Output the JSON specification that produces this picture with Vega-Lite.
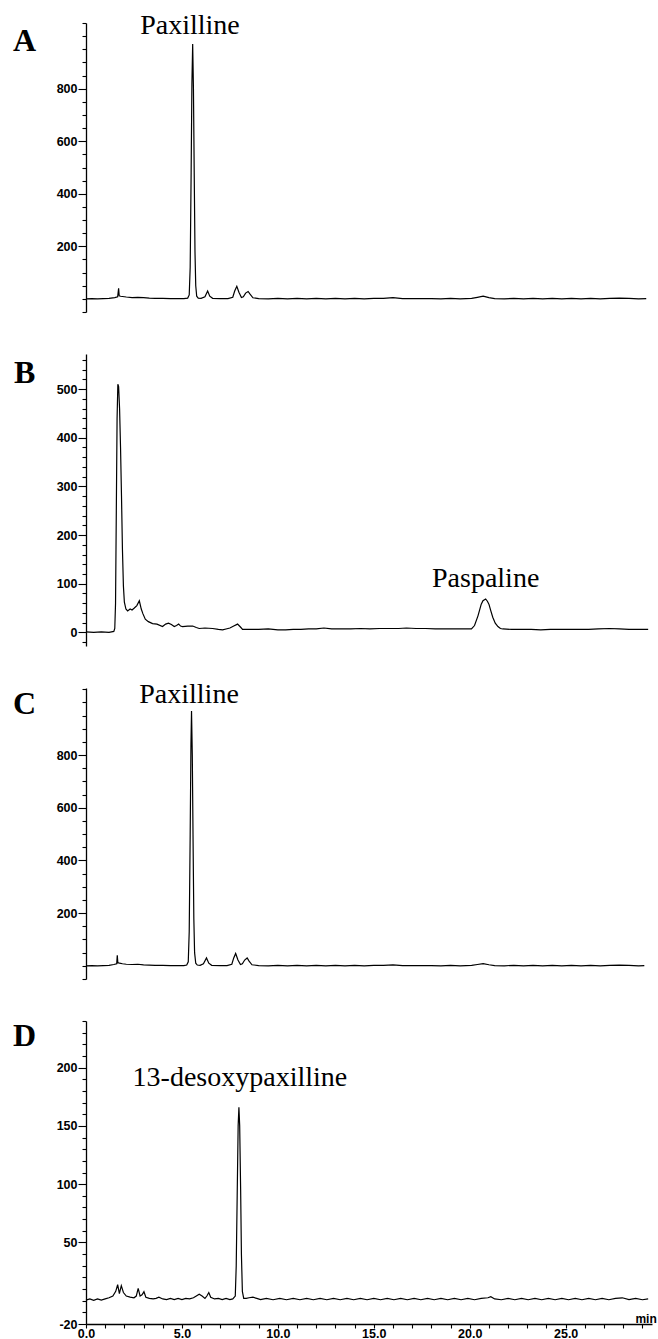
{
  "$schema": "https://vega.github.io/schema/vega-lite/v6.json",
  "background": "white",
  "padding": {"left": 13, "top": 11, "right": 0, "bottom": 0},
  "spacing": 42,
  "bounds": "flush",
  "config": {
    "view": {"stroke": null},
    "axis": {"grid": false, "domainColor": "#000", "tickColor": "#000", "labelColor": "#000", "labelFont": "Liberation Sans", "labelFontWeight": "bold", "labelFontSize": 12.5, "labelOverlap": false, "labelFlush": false, "domainWidth": 1.3, "tickWidth": 1.1}
  },
  "datasets": {
    "A": [
      {"t":0.0,"v":0},{"t":0.3,"v":1},{"t":0.6,"v":0},{"t":0.9,"v":1},{"t":1.2,"v":2},{"t":1.5,"v":5},{"t":1.65,"v":8},{"t":1.70,"v":40},{"t":1.73,"v":12},{"t":1.8,"v":10},{"t":1.9,"v":9},{"t":2.1,"v":7},{"t":2.4,"v":5},{"t":2.7,"v":6},{"t":3.0,"v":5},{"t":3.3,"v":3},{"t":3.6,"v":2},{"t":4.0,"v":2},{"t":4.4,"v":1},{"t":4.8,"v":1},{"t":5.1,"v":1},{"t":5.3,"v":3},{"t":5.38,"v":15},{"t":5.43,"v":120},{"t":5.48,"v":480},{"t":5.52,"v":820},{"t":5.56,"v":970},{"t":5.60,"v":800},{"t":5.64,"v":480},{"t":5.68,"v":180},{"t":5.72,"v":50},{"t":5.77,"v":10},{"t":5.85,"v":3},{"t":6.0,"v":2},{"t":6.2,"v":8},{"t":6.34,"v":30},{"t":6.45,"v":10},{"t":6.6,"v":2},{"t":7.0,"v":1},{"t":7.4,"v":1},{"t":7.65,"v":6},{"t":7.75,"v":30},{"t":7.86,"v":48},{"t":7.97,"v":25},{"t":8.1,"v":5},{"t":8.2,"v":8},{"t":8.32,"v":22},{"t":8.45,"v":28},{"t":8.55,"v":18},{"t":8.7,"v":4},{"t":9.0,"v":1},
      {"t":9.5,"v":0},{"t":10.0,"v":2},{"t":10.5,"v":0},{"t":11.0,"v":2},{"t":11.5,"v":0},{"t":12.0,"v":2},{"t":12.5,"v":0},{"t":13.0,"v":2},{"t":13.5,"v":0},{"t":14.0,"v":2},{"t":14.5,"v":0},{"t":15.0,"v":2},{"t":15.5,"v":2},{"t":16.0,"v":5},{"t":16.5,"v":1},{"t":17.0,"v":1},{"t":17.5,"v":1},{"t":18.0,"v":1},{"t":18.5,"v":0},{"t":19.0,"v":2},{"t":19.5,"v":0},{"t":20.1,"v":2},{"t":20.4,"v":6},{"t":20.7,"v":10},{"t":21.0,"v":5},{"t":21.3,"v":1},{"t":21.8,"v":0},{"t":22.3,"v":2},{"t":22.8,"v":0},{"t":23.3,"v":2},{"t":23.8,"v":0},{"t":24.3,"v":2},{"t":24.8,"v":0},{"t":25.3,"v":2},{"t":25.8,"v":0},{"t":26.3,"v":2},{"t":26.8,"v":0},{"t":27.3,"v":2},{"t":27.8,"v":3},{"t":28.3,"v":2},{"t":28.8,"v":0},{"t":29.2,"v":1}
    ],
    "B": [
      {"t":0.0,"v":1},{"t":0.4,"v":0},{"t":0.8,"v":1},{"t":1.2,"v":0},{"t":1.45,"v":2},{"t":1.50,"v":8},{"t":1.54,"v":60},{"t":1.58,"v":250},{"t":1.62,"v":440},{"t":1.66,"v":510},{"t":1.70,"v":505},{"t":1.75,"v":460},{"t":1.80,"v":380},{"t":1.85,"v":280},{"t":1.90,"v":170},{"t":1.95,"v":95},{"t":2.00,"v":62},{"t":2.08,"v":48},{"t":2.17,"v":44},{"t":2.3,"v":48},{"t":2.4,"v":46},{"t":2.52,"v":50},{"t":2.65,"v":55},{"t":2.78,"v":65},{"t":2.88,"v":48},{"t":2.97,"v":38},{"t":3.09,"v":27},{"t":3.25,"v":22},{"t":3.47,"v":18},{"t":3.7,"v":17},{"t":3.99,"v":12},{"t":4.15,"v":17},{"t":4.3,"v":19},{"t":4.45,"v":16},{"t":4.6,"v":12},{"t":4.72,"v":14},{"t":4.83,"v":17},{"t":4.93,"v":13},{"t":5.03,"v":12},{"t":5.3,"v":13},{"t":5.56,"v":13},{"t":5.75,"v":10},{"t":5.9,"v":8},{"t":6.2,"v":9},{"t":6.6,"v":8},{"t":6.9,"v":6},{"t":7.12,"v":5},{"t":7.3,"v":7},{"t":7.5,"v":9},{"t":7.7,"v":13},{"t":7.9,"v":17},{"t":8.05,"v":11},{"t":8.16,"v":6},{"t":8.6,"v":6},{"t":9.0,"v":6},{"t":9.5,"v":7},{"t":10.0,"v":5},{"t":10.4,"v":5},{"t":10.8,"v":6},{"t":11.2,"v":6},{"t":11.6,"v":7},{"t":12.0,"v":7},{"t":12.4,"v":9},{"t":12.8,"v":7},{"t":13.3,"v":7},{"t":13.8,"v":7},{"t":14.3,"v":8},{"t":14.8,"v":7},{"t":15.3,"v":8},{"t":15.8,"v":8},{"t":16.3,"v":8},{"t":16.7,"v":9},{"t":17.2,"v":8},{"t":17.7,"v":8},{"t":18.2,"v":7},{"t":18.7,"v":7},{"t":19.2,"v":7},{"t":19.7,"v":7},{"t":20.09,"v":7},{"t":20.25,"v":14},{"t":20.43,"v":34},{"t":20.6,"v":58},{"t":20.69,"v":65},{"t":20.83,"v":68.6},{"t":20.92,"v":64},{"t":21.0,"v":58},{"t":21.1,"v":44},{"t":21.2,"v":31},{"t":21.33,"v":19},{"t":21.47,"v":12},{"t":21.6,"v":8},{"t":21.73,"v":7},{"t":22.2,"v":6},{"t":22.7,"v":6},{"t":23.2,"v":6},{"t":23.7,"v":5},{"t":24.2,"v":6},{"t":24.7,"v":6},{"t":25.2,"v":6},{"t":25.7,"v":6},{"t":26.2,"v":6},{"t":26.7,"v":7},{"t":27.3,"v":8},{"t":27.8,"v":7},{"t":28.3,"v":6},{"t":28.8,"v":6},{"t":29.3,"v":6}
    ],
    "C": [
      {"t":0.0,"v":0},{"t":0.3,"v":1},{"t":0.6,"v":0},{"t":0.9,"v":1},{"t":1.2,"v":2},{"t":1.45,"v":5},{"t":1.6,"v":8},{"t":1.63,"v":40},{"t":1.66,"v":12},{"t":1.75,"v":10},{"t":1.9,"v":8},{"t":2.1,"v":6},{"t":2.4,"v":5},{"t":2.7,"v":6},{"t":3.0,"v":4},{"t":3.3,"v":3},{"t":3.6,"v":2},{"t":4.0,"v":2},{"t":4.4,"v":1},{"t":4.8,"v":1},{"t":5.1,"v":1},{"t":5.25,"v":3},{"t":5.33,"v":15},{"t":5.38,"v":130},{"t":5.43,"v":500},{"t":5.47,"v":840},{"t":5.50,"v":968},{"t":5.54,"v":800},{"t":5.58,"v":480},{"t":5.62,"v":180},{"t":5.66,"v":50},{"t":5.72,"v":10},{"t":5.8,"v":3},{"t":5.95,"v":2},{"t":6.12,"v":8},{"t":6.28,"v":30},{"t":6.4,"v":10},{"t":6.55,"v":2},{"t":7.0,"v":1},{"t":7.35,"v":1},{"t":7.6,"v":6},{"t":7.7,"v":30},{"t":7.8,"v":47},{"t":7.92,"v":22},{"t":8.05,"v":5},{"t":8.15,"v":8},{"t":8.27,"v":22},{"t":8.4,"v":30},{"t":8.5,"v":18},{"t":8.65,"v":4},{"t":9.0,"v":1},
      {"t":9.5,"v":0},{"t":10.0,"v":2},{"t":10.5,"v":0},{"t":11.0,"v":2},{"t":11.5,"v":0},{"t":12.0,"v":2},{"t":12.5,"v":0},{"t":13.0,"v":2},{"t":13.5,"v":0},{"t":14.0,"v":2},{"t":14.5,"v":0},{"t":15.0,"v":2},{"t":15.5,"v":2},{"t":16.0,"v":4},{"t":16.5,"v":1},{"t":17.0,"v":1},{"t":17.5,"v":1},{"t":18.0,"v":1},{"t":18.5,"v":0},{"t":19.0,"v":2},{"t":19.5,"v":0},{"t":20.1,"v":2},{"t":20.4,"v":5},{"t":20.7,"v":8},{"t":21.0,"v":4},{"t":21.3,"v":1},{"t":21.8,"v":0},{"t":22.3,"v":2},{"t":22.8,"v":0},{"t":23.3,"v":2},{"t":23.8,"v":0},{"t":24.3,"v":2},{"t":24.8,"v":0},{"t":25.3,"v":2},{"t":25.8,"v":0},{"t":26.3,"v":2},{"t":26.8,"v":0},{"t":27.3,"v":2},{"t":27.8,"v":3},{"t":28.3,"v":2},{"t":28.8,"v":0},{"t":29.1,"v":1}
    ],
    "D": [
      {"t":0.0,"v":0.5},{"t":0.2,"v":1.5},{"t":0.4,"v":0.3},{"t":0.6,"v":1.6},{"t":0.8,"v":0.5},{"t":1.0,"v":1.5},{"t":1.2,"v":2.5},{"t":1.4,"v":4},{"t":1.55,"v":8},{"t":1.65,"v":13.7},{"t":1.74,"v":6},{"t":1.84,"v":12.9},{"t":1.95,"v":7},{"t":2.1,"v":4},{"t":2.3,"v":3},{"t":2.5,"v":2.5},{"t":2.62,"v":4},{"t":2.72,"v":10.5},{"t":2.82,"v":4},{"t":2.92,"v":5},{"t":3.02,"v":7.7},{"t":3.12,"v":3},{"t":3.3,"v":2},{"t":3.5,"v":1.5},{"t":3.65,"v":2},{"t":3.8,"v":3},{"t":4.0,"v":1.5},{"t":4.2,"v":1},{"t":4.4,"v":2},{"t":4.6,"v":1},{"t":4.8,"v":2},{"t":5.0,"v":1},{"t":5.2,"v":2},{"t":5.4,"v":1.5},{"t":5.6,"v":2.5},{"t":5.75,"v":4},{"t":5.9,"v":5.5},{"t":6.05,"v":4},{"t":6.2,"v":2},{"t":6.3,"v":4},{"t":6.4,"v":7},{"t":6.5,"v":3},{"t":6.7,"v":1.5},{"t":6.9,"v":2},{"t":7.1,"v":1},{"t":7.3,"v":2},{"t":7.5,"v":1},{"t":7.65,"v":1.5},{"t":7.78,"v":4},{"t":7.83,"v":30},{"t":7.88,"v":90},{"t":7.93,"v":150},{"t":7.97,"v":166},{"t":8.01,"v":150},{"t":8.06,"v":95},{"t":8.10,"v":40},{"t":8.15,"v":8},{"t":8.22,"v":2},{"t":8.35,"v":2},{"t":8.5,"v":2.5},{"t":8.7,"v":3},{"t":8.9,"v":2},{"t":9.1,"v":1},
      {"t":9.4,"v":2},{"t":9.75,"v":0.8},{"t":10.1,"v":2},{"t":10.45,"v":0.8},{"t":10.8,"v":2},{"t":11.15,"v":0.8},{"t":11.5,"v":2},{"t":11.85,"v":0.8},{"t":12.2,"v":2},{"t":12.55,"v":0.8},{"t":12.9,"v":2},{"t":13.25,"v":0.8},{"t":13.6,"v":2},{"t":13.95,"v":0.8},{"t":14.3,"v":2},{"t":14.65,"v":0.8},{"t":15.0,"v":2},{"t":15.35,"v":0.8},{"t":15.7,"v":2},{"t":16.05,"v":0.8},{"t":16.4,"v":2},{"t":16.75,"v":0.8},{"t":17.1,"v":2},{"t":17.45,"v":0.8},{"t":17.8,"v":2},{"t":18.15,"v":0.8},{"t":18.5,"v":2},{"t":18.85,"v":0.8},{"t":19.2,"v":2},{"t":19.55,"v":0.8},{"t":19.9,"v":2},{"t":20.25,"v":0.8},{"t":20.6,"v":2},{"t":20.95,"v":2.5},{"t":21.1,"v":3.5},{"t":21.3,"v":1.5},{"t":21.65,"v":0.8},{"t":22.0,"v":2},{"t":22.35,"v":0.8},{"t":22.7,"v":2},{"t":23.05,"v":0.8},{"t":23.4,"v":2},{"t":23.75,"v":0.8},{"t":24.1,"v":2},{"t":24.45,"v":0.8},{"t":24.8,"v":2},{"t":25.15,"v":0.8},{"t":25.5,"v":2},{"t":25.85,"v":0.8},{"t":26.2,"v":2},{"t":26.55,"v":0.8},{"t":26.9,"v":2},{"t":27.25,"v":0.8},{"t":27.6,"v":2},{"t":27.95,"v":2.5},{"t":28.3,"v":1},{"t":28.65,"v":2},{"t":29.0,"v":0.8},{"t":29.3,"v":1.5}
    ]
  },
  "vconcat": [
    {
      "width": 566, "height": 289,
      "encoding": {
        "x": {"field": "t", "type": "quantitative", "scale": {"domain": [0, 29.5], "nice": false, "zero": false}, "axis": null},
        "y": {"field": "v", "type": "quantitative", "scale": {"domain": [-50, 1050], "nice": false, "zero": false},
          "axis": {"title": null, "values": [-50,0,50,100,150,200,250,300,350,400,450,500,550,600,650,700,750,800,850,900,950,1000,1050],
            "labelExpr": "indexof([200,400,600,800], datum.value) >= 0 ? datum.label : ''",
            "tickSize": {"condition": {"test": "indexof([200,400,600,800], datum.value) >= 0", "value": 8}, "value": 4},
            "labelPadding": 1}}
      },
      "layer": [
        {"data": {"name": "A"}, "mark": {"type": "line", "color": "black", "strokeWidth": 1.2}},
        {"data": {"values": [{"t": 5.42, "v": 1010, "label": "Paxilline"}]}, "mark": {"type": "text", "font": "Liberation Serif", "fontSize": 28, "align": "center", "baseline": "alphabetic", "color": "black"}, "encoding": {"text": {"field": "label"}}},
        {"data": {"values": [{"t": -3.2, "v": 945, "label": "A"}]}, "mark": {"type": "text", "font": "Liberation Serif", "fontWeight": "bold", "fontSize": 32, "align": "center", "baseline": "alphabetic", "color": "black"}, "encoding": {"text": {"field": "label"}}}
      ]
    },
    {
      "width": 566, "height": 292,
      "encoding": {
        "x": {"field": "t", "type": "quantitative", "scale": {"domain": [0, 29.5], "nice": false, "zero": false}, "axis": null},
        "y": {"field": "v", "type": "quantitative", "scale": {"domain": [-28, 572], "nice": false, "zero": false},
          "axis": {"title": null, "values": [-20,0,20,40,60,80,100,120,140,160,180,200,220,240,260,280,300,320,340,360,380,400,420,440,460,480,500,520,540,560],
            "labelExpr": "indexof([0,100,200,300,400,500], datum.value) >= 0 ? datum.label : ''",
            "tickSize": {"condition": {"test": "indexof([0,100,200,300,400,500], datum.value) >= 0", "value": 8}, "value": 4},
            "labelPadding": 1}}
      },
      "layer": [
        {"data": {"name": "B"}, "mark": {"type": "line", "color": "black", "strokeWidth": 1.2}},
        {"data": {"values": [{"t": 20.83, "v": 94, "label": "Paspaline"}]}, "mark": {"type": "text", "font": "Liberation Serif", "fontSize": 28, "align": "center", "baseline": "alphabetic", "color": "black"}, "encoding": {"text": {"field": "label"}}},
        {"data": {"values": [{"t": -3.2, "v": 513, "label": "B"}]}, "mark": {"type": "text", "font": "Liberation Serif", "fontWeight": "bold", "fontSize": 32, "align": "center", "baseline": "alphabetic", "color": "black"}, "encoding": {"text": {"field": "label"}}}
      ]
    },
    {
      "width": 566, "height": 291,
      "encoding": {
        "x": {"field": "t", "type": "quantitative", "scale": {"domain": [0, 29.5], "nice": false, "zero": false}, "axis": null},
        "y": {"field": "v", "type": "quantitative", "scale": {"domain": [-50, 1055], "nice": false, "zero": false},
          "axis": {"title": null, "values": [-50,0,50,100,150,200,250,300,350,400,450,500,550,600,650,700,750,800,850,900,950,1000,1050],
            "labelExpr": "indexof([200,400,600,800], datum.value) >= 0 ? datum.label : ''",
            "tickSize": {"condition": {"test": "indexof([200,400,600,800], datum.value) >= 0", "value": 8}, "value": 4},
            "labelPadding": 1}}
      },
      "layer": [
        {"data": {"name": "C"}, "mark": {"type": "line", "color": "black", "strokeWidth": 1.2}},
        {"data": {"values": [{"t": 5.37, "v": 999, "label": "Paxilline"}]}, "mark": {"type": "text", "font": "Liberation Serif", "fontSize": 28, "align": "center", "baseline": "alphabetic", "color": "black"}, "encoding": {"text": {"field": "label"}}},
        {"data": {"values": [{"t": -3.2, "v": 956, "label": "C"}]}, "mark": {"type": "text", "font": "Liberation Serif", "fontWeight": "bold", "fontSize": 32, "align": "center", "baseline": "alphabetic", "color": "black"}, "encoding": {"text": {"field": "label"}}}
      ]
    },
    {
      "width": 566, "height": 303,
      "encoding": {
        "x": {"field": "t", "type": "quantitative", "scale": {"domain": [0, 29.5], "nice": false, "zero": false},
          "axis": {"title": null, "values": [0,1,2,3,4,5,6,7,8,9,10,11,12,13,14,15,16,17,18,19,20,21,22,23,24,25,26,27,28,29],
            "labelExpr": "datum.value % 5 === 0 ? format(datum.value, '.1f') : ''",
            "tickSize": 4, "labelPadding": -1}},
        "y": {"field": "v", "type": "quantitative", "scale": {"domain": [-20, 240], "nice": false, "zero": false},
          "axis": {"title": null, "values": [-20,-10,0,10,20,30,40,50,60,70,80,90,100,110,120,130,140,150,160,170,180,190,200,210,220,230,240],
            "labelExpr": "datum.value === -20 ? '-20' : (indexof([50,100,150,200], datum.value) >= 0 ? datum.label : '')",
            "tickSize": {"condition": {"test": "indexof([-20,50,100,150,200], datum.value) >= 0", "value": 8}, "value": 4},
            "labelPadding": 1}}
      },
      "layer": [
        {"data": {"name": "D"}, "mark": {"type": "line", "color": "black", "strokeWidth": 1.2}},
        {"data": {"values": [{"t": 8.02, "v": 184, "label": "13-desoxypaxilline"}]}, "mark": {"type": "text", "font": "Liberation Serif", "fontSize": 28, "align": "center", "baseline": "alphabetic", "color": "black"}, "encoding": {"text": {"field": "label"}}},
        {"data": {"values": [{"t": -3.2, "v": 218.5, "label": "D"}]}, "mark": {"type": "text", "font": "Liberation Serif", "fontWeight": "bold", "fontSize": 32, "align": "center", "baseline": "alphabetic", "color": "black"}, "encoding": {"text": {"field": "label"}}},
        {"data": {"values": [{"t": 29.75, "v": -19, "label": "min"}]}, "mark": {"type": "text", "font": "Liberation Sans", "fontWeight": "bold", "fontSize": 12, "align": "right", "baseline": "alphabetic", "color": "black"}, "encoding": {"text": {"field": "label"}}}
      ]
    }
  ]
}
